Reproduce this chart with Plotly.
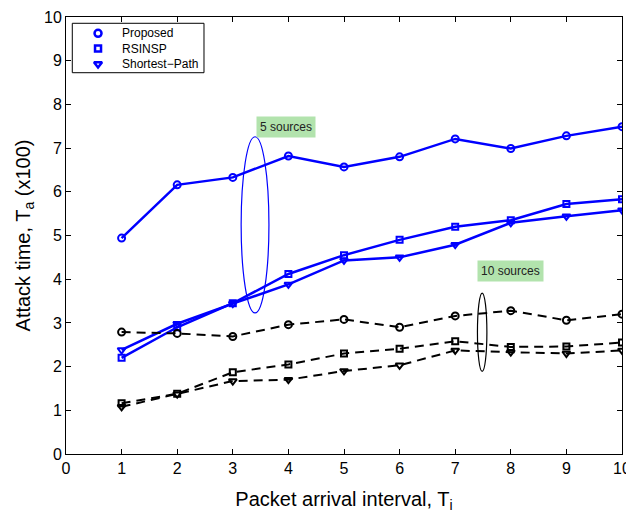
import plotly.graph_objects as go

x_vals = [1, 2, 3, 4, 5, 6, 7, 8, 9, 10]

# 5 sources (blue, solid)
proposed_5 = [4.94, 6.16, 6.33, 6.82, 6.57, 6.80, 7.21, 6.99, 7.28, 7.49]
rsinsp_5 = [2.20, 2.90, 3.45, 4.12, 4.55, 4.90, 5.20, 5.35, 5.72, 5.83]
shortest_5 = [2.38, 2.98, 3.44, 3.88, 4.43, 4.50, 4.79, 5.29, 5.44, 5.58]

# 10 sources (black, dashed)
proposed_10 = [2.79, 2.76, 2.69, 2.96, 3.08, 2.90, 3.16, 3.28, 3.06, 3.20]
rsinsp_10 = [1.16, 1.38, 1.87, 2.05, 2.30, 2.41, 2.58, 2.45, 2.46, 2.55]
shortest_10 = [1.08, 1.37, 1.67, 1.70, 1.90, 2.03, 2.37, 2.33, 2.30, 2.37]

legend_names = ["Proposed", "RSINSP", "Shortest\u2212Path"]
symbols = ["circle-open", "square-open", "triangle-down-open"]
marker_sizes = [7, 6, 7]

BLUE = "#0000ff"
BLACK = "#000000"
FONT = "Liberation Sans, Arial, Helvetica"

fig = go.Figure()

for ys, sym, ms in zip([proposed_5, rsinsp_5, shortest_5], symbols, marker_sizes):
    fig.add_trace(go.Scatter(
        x=x_vals, y=ys, mode="lines+markers", showlegend=False,
        line=dict(color=BLUE, width=2.5),
        marker=dict(symbol=sym, size=ms, color=BLUE, line=dict(width=2, color=BLUE)),
    ))

for ys, sym, ms in zip([proposed_10, rsinsp_10, shortest_10], symbols, marker_sizes):
    fig.add_trace(go.Scatter(
        x=x_vals, y=ys, mode="lines+markers", showlegend=False,
        line=dict(color=BLACK, width=2, dash="9px,6px"),
        marker=dict(symbol=sym, size=ms, color=BLACK, line=dict(width=2, color=BLACK)),
    ))

# custom legend (box + marker glyphs on an overlay paper-like axis + texts)
leg_x0, leg_x1, leg_y0, leg_y1 = 0.0113, 0.2482, 0.8725, 0.9856
leg_rows = [0.9627, 0.9279, 0.8924]
leg_mark_x = 0.0576
leg_text_x = 0.098

fig.add_shape(type="rect", xref="paper", yref="paper",
              x0=leg_x0, x1=leg_x1, y0=leg_y0, y1=leg_y1,
              line=dict(color="black", width=1), fillcolor="white", layer="below")

for name, sym, ms, ry in zip(legend_names, symbols, marker_sizes, leg_rows):
    fig.add_trace(go.Scatter(
        x=[leg_mark_x], y=[ry], xaxis="x2", yaxis="y2", mode="markers",
        showlegend=False, hoverinfo="skip",
        marker=dict(symbol=sym, size=ms, color=BLUE, line=dict(width=2.5, color=BLUE)),
    ))
    fig.add_annotation(x=leg_text_x, y=ry, xref="paper", yref="paper", text=name,
                       showarrow=False, xanchor="left", yanchor="middle",
                       font=dict(family=FONT, size=12, color="black"))

# ellipses marking groups
fig.add_shape(type="circle", xref="x", yref="y", x0=3.15, x1=3.65, y0=3.23, y1=7.26,
              line=dict(color=BLUE, width=1.2))
fig.add_shape(type="circle", xref="x", yref="y", x0=7.40, x1=7.57, y0=1.89, y1=3.68,
              line=dict(color=BLACK, width=1.2))

fig.add_annotation(x=3.96, y=7.48, xref="x", yref="y", text="5 sources", showarrow=False,
                   bgcolor="#b2e3ad", font=dict(family=FONT, size=12, color="#222"),
                   borderpad=3)
fig.add_annotation(x=7.99, y=4.19, xref="x", yref="y", text="10 sources", showarrow=False,
                   bgcolor="#b2e3ad", font=dict(family=FONT, size=12, color="#222"),
                   borderpad=3)

axis_common = dict(
    showgrid=False, zeroline=False, showline=True, linecolor="black", linewidth=1,
    mirror="ticks", ticks="inside", ticklen=5, tickcolor="black",
    tickfont=dict(family=FONT, size=16, color="black"),
    dtick=1, ticklabeloverflow="allow", automargin=False,
)

fig.update_layout(
    width=626, height=513,
    margin=dict(l=66, r=4, t=17, b=59),
    paper_bgcolor="white", plot_bgcolor="white",
    font=dict(family=FONT, color="black"),
    showlegend=False,
    xaxis=dict(range=[0, 10], tick0=0,
               title=dict(text="Packet arrival interval, T<sub>i</sub>",
                          font=dict(size=20), standoff=17),
               **axis_common),
    yaxis=dict(range=[0, 10], tick0=0,
               title=dict(text="Attack time, T<sub>a</sub> (x100)",
                          font=dict(size=20), standoff=8),
               **axis_common),
    xaxis2=dict(overlaying="x", range=[0, 1], visible=False, fixedrange=True),
    yaxis2=dict(overlaying="y", range=[0, 1], visible=False, fixedrange=True),
)

fig.write_html("out.html")
